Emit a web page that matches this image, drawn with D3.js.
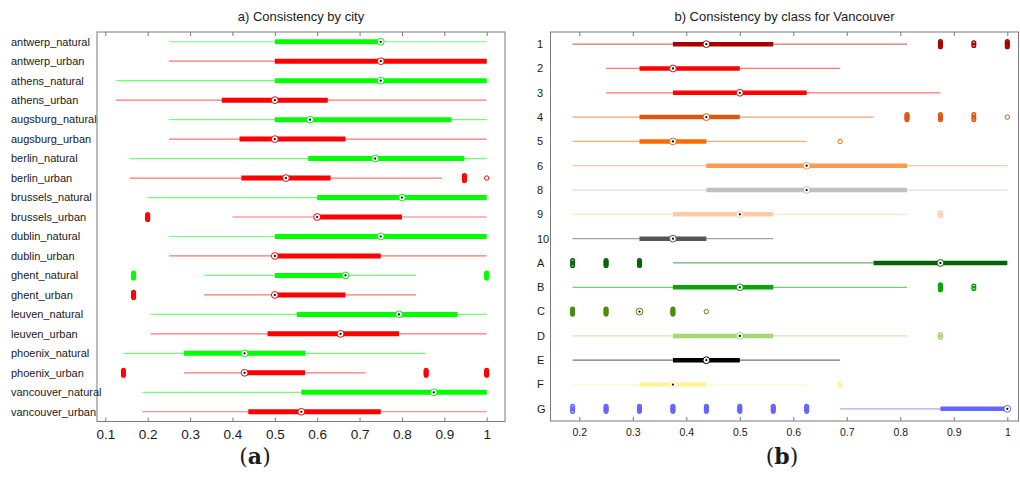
<!DOCTYPE html>
<html>
<head>
<meta charset="utf-8">
<script src="https://cdn.jsdelivr.net/npm/d3@7"></script>
<style>
  html, body { margin: 0; padding: 0; background: #fff; }
  svg { display: block; }
  text { font-family: "Liberation Sans", Arial, sans-serif; fill: #1a1a1a; }
</style>
</head>
<body>
<svg id="chart" width="1020" height="477"></svg>
<script>
// ---- Panel (a): consistency by city ----
const cityLabels = [
  "antwerp_natural", "antwerp_urban", "athens_natural", "athens_urban",
  "augsburg_natural", "augsburg_urban", "berlin_natural", "berlin_urban",
  "brussels_natural", "brussels_urban", "dublin_natural", "dublin_urban",
  "ghent_natural", "ghent_urban", "leuven_natural", "leuven_urban",
  "phoenix_natural", "phoenix_urban", "vancouver_natural", "vancouver_urban"
];
const cityLowWhisker  = [0.25, 0.25, 0.125, 0.125, 0.25, 0.25, 0.1579, 0.1579, 0.2, 0.4, 0.25, 0.25, 0.3333, 0.3333, 0.2069, 0.2069, 0.1429, 0.2857, 0.1875, 0.1875];
const cityQ1          = [0.5, 0.5, 0.5, 0.375, 0.5, 0.4167, 0.5789, 0.4211, 0.6, 0.6, 0.5, 0.5, 0.5, 0.5, 0.5517, 0.4828, 0.2857, 0.4286, 0.5625, 0.4375];
const cityMedian      = [0.75, 0.75, 0.75, 0.5, 0.5833, 0.5, 0.7368, 0.5263, 0.8, 0.6, 0.75, 0.5, 0.6667, 0.5, 0.7931, 0.6552, 0.4286, 0.4286, 0.875, 0.5625];
const cityQ3          = [0.75, 1, 1, 0.625, 0.9167, 0.6667, 0.9474, 0.6316, 1, 0.8, 1, 0.75, 0.6667, 0.6667, 0.931, 0.7931, 0.5714, 0.5714, 1, 0.75];
const cityHighWhisker = [1, 1, 1, 1, 1, 1, 1, 0.8947, 1, 1, 1, 1, 0.8333, 0.8333, 1, 1, 0.8571, 0.7143, 1, 1];
// outliers as [value, number of points]
const cityOutliers = [
  [], [], [], [], [], [], [], [[0.9474, 5], [1, 1]],
  [], [[0.2, 5]], [], [],
  [[0.1667, 5], [1, 5]], [[0.1667, 5]], [], [],
  [], [[0.1429, 5], [0.8571, 5], [1, 5]], [], []
];
const cityColors = cityLabels.map(l => l.endsWith("natural") ? "#00ff00" : "#ff0000");
const cityTicks = [0.1, 0.2, 0.3, 0.4, 0.5, 0.6, 0.7, 0.8, 0.9, 1];

// ---- Panel (b): consistency by class for Vancouver ----
const classLabels = ["1", "2", "3", "4", "5", "6", "8", "9", "10", "A", "B", "C", "D", "E", "F", "G"];
const classLowWhisker  = [0.1875, 0.25, 0.25, 0.1875, 0.1875, 0.1875, 0.1875, 0.1875, 0.1875, 0.375, 0.1875, 0.3125, 0.1875, 0.1875, 0.1875, 0.6875];
const classQ1          = [0.375, 0.3125, 0.375, 0.3125, 0.3125, 0.4375, 0.4375, 0.375, 0.3125, 0.75, 0.375, 0.3125, 0.375, 0.375, 0.3125, 0.875];
const classMedian      = [0.4375, 0.375, 0.5, 0.4375, 0.375, 0.625, 0.625, 0.5, 0.375, 0.875, 0.5, 0.3125, 0.5, 0.4375, 0.375, 1];
const classQ3          = [0.5625, 0.5, 0.625, 0.5, 0.4375, 0.8125, 0.8125, 0.5625, 0.4375, 1, 0.5625, 0.3125, 0.5625, 0.5, 0.4375, 1];
const classHighWhisker = [0.8125, 0.6875, 0.875, 0.75, 0.625, 1, 1, 0.8125, 0.5625, 1, 0.8125, 0.3125, 0.8125, 0.6875, 0.625, 1];
const classOutliers = [
  [[0.875, 5], [0.9375, 2], [1, 5]],
  [], [],
  [[0.8125, 5], [0.875, 4], [0.9375, 3], [1, 1]],
  [[0.6875, 1]],
  [], [],
  [[0.875, 2]],
  [],
  [[0.1875, 3], [0.25, 5], [0.3125, 5]],
  [[0.875, 5], [0.9375, 2]],
  [[0.1875, 5], [0.25, 5], [0.375, 5], [0.4375, 1]],
  [[0.875, 2]],
  [],
  [[0.6875, 2]],
  [[0.1875, 3], [0.25, 5], [0.3125, 5], [0.375, 5], [0.4375, 5], [0.5, 5], [0.5625, 5], [0.625, 5]]
];
const classColors = ["#a80000", "#ff0000", "#ff0000", "#e0540c", "#ff6a00", "#ff9a50", "#c0c0c0", "#ffcba6",
                     "#555555", "#006400", "#00a800", "#4c8c10", "#a4d870", "#000000", "#fff39a", "#6464ff"];
const classTicks = [0.2, 0.3, 0.4, 0.5, 0.6, 0.7, 0.8, 0.9, 1];

const svg = d3.select("#chart");
const fmt = d => (d === 1 ? "1" : d3.format(".1f")(d));

function drawPanel(cfg) {
  const g = svg.append("g");
  const { left, right, top, bottom } = cfg.frame;
  const x = d3.scaleLinear().domain(cfg.domain).range(cfg.range);
  const y = d3.scalePoint().domain(cfg.labels).range([top, bottom]).padding(0.5);

  // title
  g.append("text").attr("x", (left + right) / 2).attr("y", 21)
    .attr("text-anchor", "middle").style("font-size", "13px").text(cfg.title);

  // frame
  g.append("rect").attr("x", left).attr("y", top)
    .attr("width", right - left).attr("height", bottom - top)
    .attr("fill", "none").attr("stroke", "#7a7a7a").attr("stroke-width", 1);

  // inward ticks on bottom and top edges, labels below
  const axB = d3.axisBottom(x).tickValues(cfg.ticks).tickSize(-4).tickPadding(8).tickFormat(fmt);
  const axT = d3.axisTop(x).tickValues(cfg.ticks).tickSize(-4).tickFormat("");
  const gb = g.append("g").attr("transform", `translate(0,${bottom})`).call(axB);
  const gt = g.append("g").attr("transform", `translate(0,${top})`).call(axT);
  [gb, gt].forEach(a => {
    a.select(".domain").remove();
    a.selectAll(".tick line").attr("stroke", "#7a7a7a");
  });
  gb.selectAll(".tick text").style("font-size", cfg.tickFont)
    .style("font-family", '"Liberation Sans", Arial, sans-serif').attr("fill", "#1a1a1a");

  // category labels
  g.append("g").selectAll("text").data(cfg.labels).join("text")
    .attr("x", cfg.labelX).attr("y", d => y(d)).attr("dy", "0.35em")
    .style("font-size", "11px").text(d => d);

  const rows = cfg.labels.map((l, i) => ({
    label: l, lw: cfg.lw[i], q1: cfg.q1[i], med: cfg.med[i], q3: cfg.q3[i], hw: cfg.hw[i],
    out: cfg.out[i], color: cfg.colors[i]
  }));

  const rg = g.append("g").selectAll("g").data(rows).join("g")
    .attr("transform", d => `translate(0,${y(d.label)})`);

  // whiskers
  rg.filter(d => d.hw > d.lw).append("line")
    .attr("x1", d => x(d.lw)).attr("x2", d => x(d.hw))
    .attr("stroke", d => d.color).attr("stroke-opacity", 0.55).attr("stroke-width", 1.2);

  // interquartile bar
  rg.filter(d => d.q3 > d.q1).append("line")
    .attr("x1", d => x(d.q1)).attr("x2", d => x(d.q3))
    .attr("stroke", d => d.color).attr("stroke-width", cfg.boxWidth);

  // outliers: points sharing a value are spread vertically
  rg.each(function (d) {
    const pts = [];
    d.out.forEach(([v, n]) => {
      const half = Math.min(2.5, (n - 1) * 1.25);
      for (let k = 0; k < n; k++) {
        const off = n === 1 ? 0 : -half + (2 * half * k) / (n - 1);
        pts.push({ v, off, n });
      }
    });
    d3.select(this).selectAll("circle.out").data(pts).join("circle")
      .attr("class", "out")
      .attr("cx", p => x(p.v)).attr("cy", p => p.off)
      .attr("r", p => (p.n === 1 ? 2.2 : 1.8))
      .attr("fill", "none").attr("stroke", d.color)
      .attr("stroke-width", p => (p.n === 1 ? 1 : 1.5));
  });

  // median marker
  rg.append("circle").attr("cx", d => x(d.med)).attr("r", 3.4)
    .attr("fill", "#fff").attr("stroke", d => d.color).attr("stroke-width", 1);
  rg.append("circle").attr("cx", d => x(d.med)).attr("r", 1.1).attr("fill", "#000");

  // panel letter
  const pl = g.append("text").attr("x", cfg.letterX).attr("y", 464)
    .attr("text-anchor", "middle")
    .style("font-family", '"DejaVu Serif", "Liberation Serif", serif').style("font-size", "22px");
  pl.append("tspan").text("(");
  pl.append("tspan").style("font-weight", "bold").text(cfg.letter);
  pl.append("tspan").text(")");
}

drawPanel({
  title: "a) Consistency by city",
  frame: { left: 97, right: 505, top: 32, bottom: 421.5 },
  domain: [0.1, 1], range: [105.3, 486.7],
  labels: cityLabels, lw: cityLowWhisker, q1: cityQ1, med: cityMedian, q3: cityQ3, hw: cityHighWhisker,
  out: cityOutliers, colors: cityColors, ticks: cityTicks,
  tickFont: "13.5px", labelX: 11, boxWidth: 5, letter: "a", letterX: 255
});

drawPanel({
  title: "b) Consistency by class for Vancouver",
  frame: { left: 550.5, right: 1018.5, top: 32, bottom: 421 },
  domain: [0.2, 1], range: [579.3, 1007.3],
  labels: classLabels, lw: classLowWhisker, q1: classQ1, med: classMedian, q3: classQ3, hw: classHighWhisker,
  out: classOutliers, colors: classColors, ticks: classTicks,
  tickFont: "10.5px", labelX: 537, boxWidth: 4.5, letter: "b", letterX: 782
});
</script>
</body>
</html>
